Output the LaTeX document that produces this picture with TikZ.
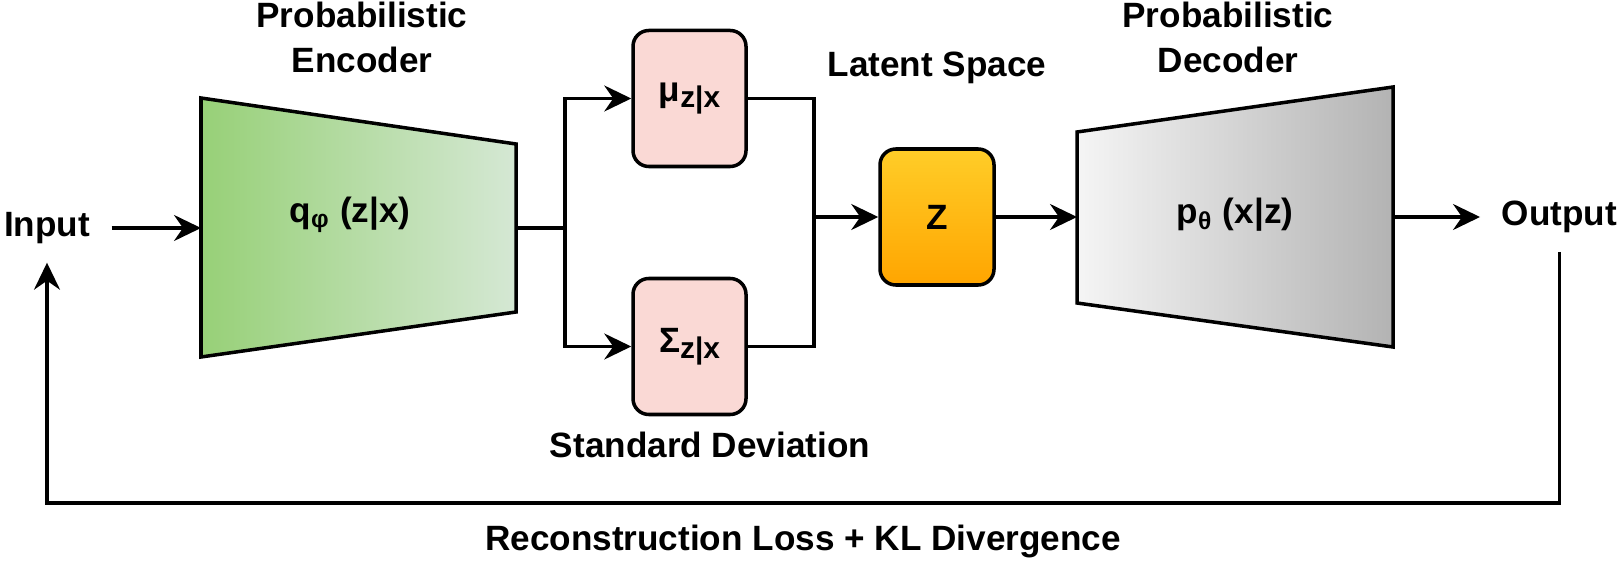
\documentclass[tikz,border=0pt]{standalone}
\usepackage{fontspec}
\setmainfont{Liberation Sans}
\usetikzlibrary{arrows.meta,positioning}
\definecolor{encl}{HTML}{97D077}
\definecolor{encr}{HTML}{D5E8D4}
\definecolor{decl}{HTML}{F5F5F5}
\definecolor{decr}{HTML}{B3B3B3}
\definecolor{paramfill}{HTML}{FAD9D5}
\definecolor{ztop}{HTML}{FFCD28}
\definecolor{zbot}{HTML}{FFA500}
\tikzset{
  coder/.style={draw, line width=1pt},
  param/.style={draw, line width=1pt, rounded corners=4.5pt, fill=paramfill,
    minimum width=11.3mm, minimum height=13.6mm, inner sep=0pt, font=\bfseries},
  latent/.style={draw, line width=1pt, rounded corners=4.5pt, top color=ztop,
    bottom color=zbot, minimum width=11.4mm, minimum height=13.6mm, inner sep=0pt,
    font=\bfseries},
  lbl/.style={font=\bfseries\fontsize{10}{12.8}\selectfont, align=center, inner sep=0pt},
  io/.style={font=\bfseries, inner xsep=6pt, inner ysep=5.2pt},
  wire/.style={line width=0.9pt},
  flow/.style={wire, -{Stealth[length=2.7mm, width=2.6mm, inset=0.9mm]}},
}
\newcommand{\cond}[1]{\raisebox{-1.6pt}{\fontsize{8.5}{9}\selectfont #1}}

\begin{document}
\begin{tikzpicture}
\useasboundingbox (0,0) rectangle (16.2,5.6);

% input and output
\node[io] (inp) at (0.47, 3.32) {Input};
\node[io, anchor=west] (out) at (14.80, 3.43) {Output};

% encoder
\coordinate (encin) at (2.01, 3.32);
\coordinate (encout) at (5.16, 3.32);
\draw[coder, left color=encl, right color=encr]
  (2.01,4.62) -- (5.16,4.16) -- (5.16,2.48) -- (2.01,2.03) -- cycle;
\node[font=\bfseries] (enc) at (3.50, 3.45) {q\textsubscript{φ} (z|x)};
\node[lbl, anchor=north] (enctitle) at (3.62, 5.585) {Probabilistic\\Encoder};
\draw[flow] (inp) -- (encin);

% mean and deviation, then the latent sample
\coordinate (split) at (5.65, 3.32);
\coordinate (join) at (8.14, 3.43);
\node[param] (mu) at (6.895, 4.615) {μ\cond{z|x}};
\node[param] (sig) at (6.895, 2.135) {Σ\cond{z|x}};
\node[latent] (z) at (9.37, 3.43) {Z};
\node[lbl, anchor=base] (lat) at (9.37, 4.83) {Latent Space};
\node[lbl, anchor=base] (std) at (7.10, 1.02) {Standard Deviation};
\draw[wire] (encout) -- (split);
\draw[flow] (split) |- (mu);
\draw[flow] (split) |- (sig);
\draw[wire] (mu) -| (join) |- (sig);
\draw[flow] (join) -- (z);

% decoder
\coordinate (decin) at (10.77, 3.43);
\coordinate (decout) at (13.93, 3.43);
\draw[coder, left color=decl, right color=decr]
  (10.77,4.28) -- (13.93,4.73) -- (13.93,2.13) -- (10.77,2.57) -- cycle;
\node[font=\bfseries] (dec) at (12.35, 3.45) {p\textsubscript{θ} (x|z)};
\node[lbl, anchor=north] (dectitle) at (12.28, 5.585) {Probabilistic\\Decoder};
\draw[flow] (z) -- (decin);
\draw[flow] (decout) -- (out);

% loss goes back to the input
\coordinate (back) at (8.03, 0.57);
\draw[flow] (out) |- (back) -| (inp);
\node[lbl, anchor=base] (loss) at (8.03, 0.10) {Reconstruction Loss + KL Divergence};

\end{tikzpicture}
\end{document}
